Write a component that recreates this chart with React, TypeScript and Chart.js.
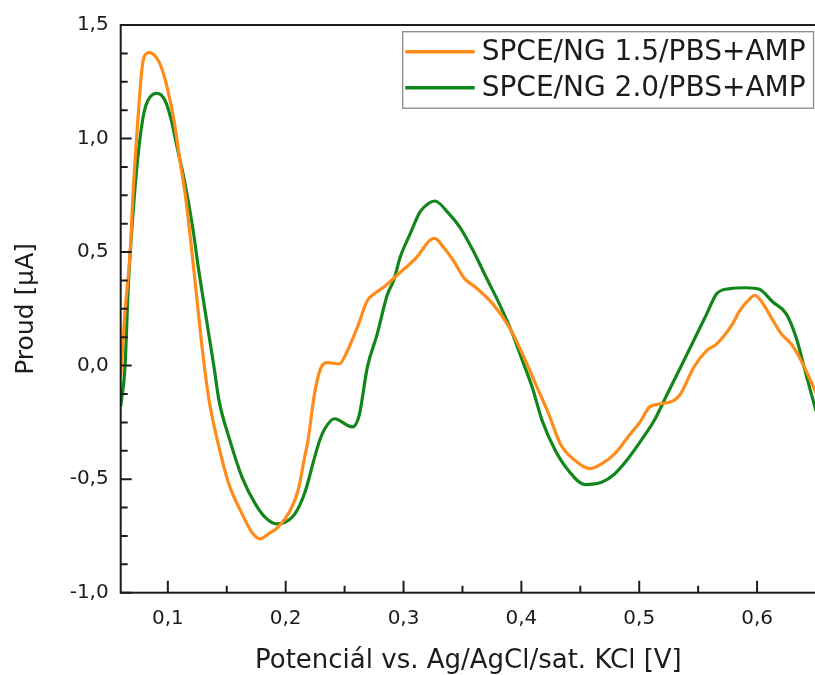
import React, { useEffect, useRef } from "react";
import { Chart, registerables } from "chart.js";

Chart.register(...registerables);

const seriesLabels = ["SPCE/NG 1.5/PBS+AMP", "SPCE/NG 2.0/PBS+AMP"];
const seriesColors = ["#FF8C1A", "#11861A"];

const potential15 = [
  0.06, 0.0637, 0.0679, 0.0706, 0.0748, 0.0779, 0.0799, 0.0846, 0.0916, 0.0958,
  0.1, 0.1056, 0.1098, 0.1154, 0.1224, 0.1294, 0.135, 0.1434, 0.1518, 0.163,
  0.1713, 0.1784, 0.1854, 0.1938, 0.2036, 0.2105, 0.2162, 0.2189, 0.2246, 0.2301,
  0.2357, 0.2455, 0.2525, 0.2609, 0.2693, 0.2735, 0.2833, 0.2945, 0.3056, 0.3113,
  0.3224, 0.3266, 0.3337, 0.3421, 0.3518, 0.3616, 0.3756, 0.3896, 0.4008, 0.412,
  0.4231, 0.433, 0.4456, 0.4581, 0.468, 0.4791, 0.4903, 0.5015, 0.5085, 0.5183,
  0.5295, 0.5351, 0.5463, 0.5574, 0.5658, 0.5784, 0.5855, 0.5939, 0.5981, 0.605,
  0.6134, 0.6204, 0.6288, 0.6358, 0.6428, 0.65,
];
const current15 = [
  -0.05, 0.24, 0.49, 0.77, 1.1, 1.3, 1.36, 1.378, 1.346, 1.294,
  1.213, 1.068, 0.92, 0.728, 0.406, 0.066, -0.153, -0.359, -0.521, -0.653,
  -0.734, -0.763, -0.741, -0.71, -0.64, -0.55, -0.4, -0.33, -0.12, -0.007,
  0.013, 0.008, 0.067, 0.17, 0.287, 0.31, 0.346, 0.398, 0.449, 0.478,
  0.552, 0.56, 0.522, 0.464, 0.383, 0.343, 0.273, 0.17, 0.053, -0.08,
  -0.212, -0.344, -0.418, -0.454, -0.433, -0.389, -0.315, -0.242, -0.183, -0.168,
  -0.153, -0.124, -0.007, 0.067, 0.096, 0.177, 0.243, 0.295, 0.31, 0.273,
  0.199, 0.141, 0.096, 0.038, -0.036, -0.12,
];

const potential20 = [
  0.06, 0.0637, 0.0664, 0.072, 0.0762, 0.0799, 0.0832, 0.0903, 0.0945, 0.0987,
  0.1029, 0.1084, 0.114, 0.121, 0.1266, 0.1392, 0.1434, 0.1518, 0.163, 0.1742,
  0.1826, 0.1923, 0.1994, 0.2078, 0.2162, 0.2246, 0.2288, 0.233, 0.2413, 0.2567,
  0.2623, 0.2693, 0.2777, 0.2861, 0.2917, 0.2972, 0.3056, 0.314, 0.3211, 0.3266,
  0.3379, 0.3476, 0.3589, 0.37, 0.3812, 0.3924, 0.4008, 0.4092, 0.4176, 0.4288,
  0.4399, 0.454, 0.468, 0.4791, 0.4903, 0.5015, 0.5127, 0.5239, 0.5351, 0.5463,
  0.5574, 0.5658, 0.5771, 0.591, 0.6023, 0.6134, 0.6246, 0.633, 0.6414, 0.65,
];
const current20 = [
  -0.18, 0.0, 0.346, 0.773, 0.993, 1.118, 1.169, 1.199, 1.191, 1.155,
  1.081, 0.949, 0.817, 0.611, 0.406, -0.007, -0.153, -0.315, -0.492, -0.609,
  -0.668, -0.697, -0.69, -0.653, -0.56, -0.403, -0.33, -0.28, -0.234, -0.27,
  -0.22, -0.007, 0.14, 0.31, 0.376, 0.478, 0.58, 0.677, 0.714, 0.725,
  0.673, 0.611, 0.508, 0.39, 0.273, 0.141, 0.023, -0.095, -0.242, -0.374,
  -0.462, -0.524, -0.514, -0.477, -0.411, -0.33, -0.242, -0.124, -0.007, 0.111,
  0.229, 0.317, 0.339, 0.343, 0.335, 0.28, 0.229, 0.126, -0.036, -0.2,
];

const xTitle = "Potenciál vs. Ag/AgCl/sat. KCl [V]";
const yTitle = "Proud [µA]";
const xRange = [0.06, 0.65];
const yRange = [-1.0, 1.5];
const xTickStep = 0.05;
const yTickStep = 0.125;

const FONT = "'DejaVu Sans', sans-serif";
const INK = "#1c1c1c";

const fmt = (v: number, d: number) => v.toFixed(d).replace(".", ",");
const isMult = (v: number, m: number) => Math.abs(v / m - Math.round(v / m)) < 1e-6;

const framePlugin = {
  id: "frameTicksLegend",
  afterDatasetsDraw(chart: any) {
    const { ctx, chartArea: ca, scales } = chart;
    ctx.save();
    ctx.strokeStyle = INK;
    ctx.lineWidth = 2;
    ctx.strokeRect(ca.left, ca.top, ca.right - ca.left, ca.bottom - ca.top);
    ctx.lineWidth = 2;
    ctx.beginPath();
    scales.x.ticks.forEach((t: any) => {
      const px = scales.x.getPixelForValue(t.value);
      const len = isMult(t.value, 0.1) ? 12 : 7;
      ctx.moveTo(px, ca.bottom);
      ctx.lineTo(px, ca.bottom - len);
    });
    scales.y.ticks.forEach((t: any) => {
      const py = scales.y.getPixelForValue(t.value);
      const len = isMult(t.value, 0.5) ? 11 : 7;
      ctx.moveTo(ca.left, py);
      ctx.lineTo(ca.left + len, py);
    });
    ctx.stroke();

    // legend
    const bx = ca.left + 282;
    const by = ca.top + 6.7;
    const bh = 76.5;
    ctx.font = `28px ${FONT}`;
    const textX = bx + 79;
    const tw = Math.max(...chart.data.datasets.map((d: any) => ctx.measureText(d.label).width));
    const bw = textX + tw + 8 - bx;
    ctx.fillStyle = "#ffffff";
    ctx.fillRect(bx, by, bw, bh);
    ctx.strokeStyle = "#8a8a8a";
    ctx.lineWidth = 1.3;
    ctx.strokeRect(bx, by, bw, bh);
    chart.data.datasets.forEach((d: any, i: number) => {
      const ly = by + 20 + i * 36;
      ctx.strokeStyle = d.borderColor;
      ctx.lineWidth = 3.5;
      ctx.beginPath();
      ctx.moveTo(bx + 2.5, ly);
      ctx.lineTo(bx + 72, ly);
      ctx.stroke();
      ctx.fillStyle = INK;
      ctx.textBaseline = "middle";
      ctx.textAlign = "left";
      ctx.fillText(d.label, textX, ly + 1);
    });
    ctx.restore();
  },
};

export default function App() {
  const ref = useRef<HTMLCanvasElement>(null);
  useEffect(() => {
    if (!ref.current) return;
    const chart = new Chart(ref.current, {
      type: "line",
      data: {
        datasets: [
          {
            label: seriesLabels[0],
            data: potential15.map((x, i) => ({ x, y: current15[i] })),
            borderColor: seriesColors[0],
            borderWidth: 3.2,
            pointRadius: 0,
            cubicInterpolationMode: "monotone",
          },
          {
            label: seriesLabels[1],
            data: potential20.map((x, i) => ({ x, y: current20[i] })),
            borderColor: seriesColors[1],
            borderWidth: 3.2,
            pointRadius: 0,
            cubicInterpolationMode: "monotone",
          },
        ],
      },
      options: {
        animation: false,
        responsive: false,
        devicePixelRatio: 1,
        layout: { padding: { left: 0, top: 25, right: 6.4, bottom: 0 } },
        plugins: { legend: { display: false }, tooltip: { enabled: false } },
        font: { family: FONT },
        scales: {
          x: {
            type: "linear",
            min: xRange[0],
            max: xRange[1],
            afterFit: (s: any) => {
              s.height = 82.3;
            },
            grid: { display: true, drawOnChartArea: false, drawTicks: false },
            border: { display: false },
            ticks: {
              stepSize: xTickStep,
              includeBounds: false,
              autoSkip: false,
              maxRotation: 0,
              padding: 14,
              color: INK,
              font: { family: FONT, size: 20 },
              callback: (v: any) => (isMult(Number(v), 0.1) ? fmt(Number(v), 1) : ""),
            },
            title: {
              display: true,
              text: xTitle,
              color: INK,
              font: { family: FONT, size: 26 },
              padding: { top: 0, bottom: -2 },
            },
          },
          y: {
            type: "linear",
            min: yRange[0],
            max: yRange[1],
            afterFit: (s: any) => {
              s.width = 120.7;
            },
            grid: { display: true, drawOnChartArea: false, drawTicks: false },
            border: { display: false },
            ticks: {
              stepSize: yTickStep,
              includeBounds: false,
              autoSkip: false,
              padding: 12,
              color: INK,
              font: { family: FONT, size: 20 },
              callback: (v: any) => (isMult(Number(v), 0.5) ? fmt(Number(v), 1) : ""),
            },
            title: {
              display: true,
              text: yTitle,
              color: INK,
              font: { family: FONT, size: 25 },
              padding: { top: 11, bottom: 0 },
            },
          },
        },
      },
      plugins: [framePlugin],
    } as any);
    return () => chart.destroy();
  }, []);
  return (
    <div
      style={{
        position: "fixed",
        left: 0,
        top: 0,
        width: 815,
        height: 675,
        overflow: "hidden",
        background: "#ffffff",
      }}
    >
      <canvas ref={ref} width={830} height={675} style={{ display: "block" }} />
    </div>
  );
}
